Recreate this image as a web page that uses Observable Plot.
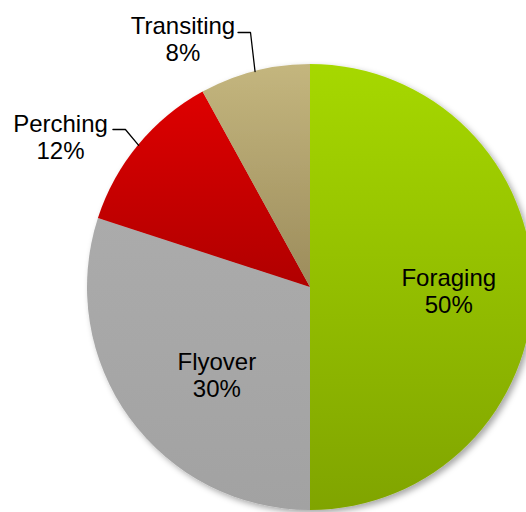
<!DOCTYPE html>
<html><head><meta charset="utf-8">
<script src="https://cdn.jsdelivr.net/npm/d3@7"></script>
<script src="https://cdn.jsdelivr.net/npm/@observablehq/plot@0.6"></script>
<style>html,body{margin:0;padding:0;background:#fff}#chart svg{display:block}</style>
</head><body><div id="chart"></div>
<script>
// ---- data ----
const categories = ["Foraging", "Flyover", "Perching", "Transiting"];
const values = [50, 30, 12, 8];
const percentLabels = ["50%", "30%", "12%", "8%"];

// ---- styles ----
const colorTop = ["#a6d800", "#ababab", "#de0000", "#c4b67e"];
const colorBottom = ["#80a400", "#a2a2a2", "#b00000", "#9c8c5c"];

// ---- label layout (data units, pie radius = 1) ----
const labelPos = [[0.62, -0.013], [-0.42, -0.39], [-1.121, 0.675], [-0.572, 1.114]];
const leaderElbow = [null, null, [-0.830, 0.7085], [-0.269, 1.1435]];

const arcs = d3.pie().sort(null).value(d => d)(values);

const labelData = categories.map((c, i) => ({
  text: c + "\n" + percentLabels[i], x: labelPos[i][0], y: labelPos[i][1]
}));

const leaderData = [];
arcs.forEach((a, i) => {
  const e = leaderElbow[i];
  if (!e) return;
  const mid = (a.startAngle + a.endAngle) / 2;
  leaderData.push({k: i, x: e[0] - 0.056, y: e[1]});
  leaderData.push({k: i, x: e[0], y: e[1]});
  leaderData.push({k: i, x: Math.sin(mid), y: Math.cos(mid)});
});

function pieMark(index, scales) {
  const cx = scales.x(0), cy = scales.y(0), r = scales.x(1) - scales.x(0);
  const g = d3.create("svg:g");
  const defs = g.append("defs");
  const f = defs.append("filter").attr("id", "pieShadow")
    .attr("x", "-10%").attr("y", "-10%").attr("width", "120%").attr("height", "120%");
  f.append("feDropShadow").attr("dx", 3).attr("dy", 3).attr("stdDeviation", 3)
    .attr("flood-color", "#000").attr("flood-opacity", 0.35);
  categories.forEach((c, i) => {
    const lg = defs.append("linearGradient").attr("id", "grad" + i)
      .attr("x1", 0).attr("y1", 0).attr("x2", 0).attr("y2", 1);
    lg.append("stop").attr("offset", "0%").attr("stop-color", colorTop[i]);
    lg.append("stop").attr("offset", "100%").attr("stop-color", colorBottom[i]);
  });
  const arcGen = d3.arc().innerRadius(0).outerRadius(r);
  g.append("g").attr("transform", `translate(${cx},${cy})`).attr("filter", "url(#pieShadow)")
    .selectAll("path").data(arcs).join("path")
    .attr("d", arcGen)
    .attr("fill", (d, i) => `url(#grad${i})`);
  return g.node();
}

const chart = Plot.plot({
  width: 526,
  height: 512,
  margin: 0,
  x: {domain: [-1, 1], range: [87, 533], axis: null},
  y: {domain: [-1, 1], range: [510, 64], axis: null},
  style: {fontFamily: "'Liberation Sans', Arial, sans-serif", background: "#fff", overflow: "hidden"},
  marks: [
    pieMark,
    Plot.line(leaderData, {x: "x", y: "y", z: "k", stroke: "#000", strokeWidth: 1.3}),
    Plot.text(labelData, {x: "x", y: "y", text: "text", fontSize: 24, lineHeight: 1.125, fill: "#000", textAnchor: "middle"})
  ]
});
document.getElementById("chart").appendChild(chart);
</script>
</body></html>
